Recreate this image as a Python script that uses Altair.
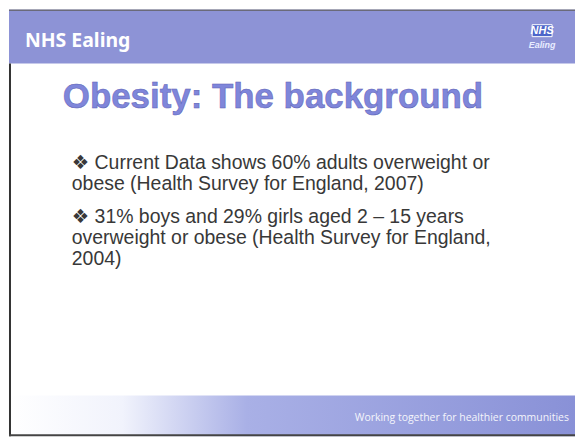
import altair as alt

# ---- slide content ----
header_text = "NHS Ealing"
logo_top = "NHS"
logo_bottom = "Ealing"
slide_title = "Obesity: The background"
bullet_1 = ["❖ Current Data shows 60% adults overweight or",
            "obese (Health Survey for England, 2007)"]
bullet_2 = ["❖ 31% boys and 29% girls aged 2 – 15 years",
            "overweight or obese (Health Survey for England,",
            "2004)"]
footer_text = "Working together for healthier communities"

W, H = 568, 428
BAND = "#8d93d6"
BODY_FONT = "Liberation Sans, Arial, DejaVu Sans"

base = alt.Chart(alt.Data(values=[{"k": 1}]))

bg = base.mark_rect(fill="white").encode(
    x=alt.value(0), x2=alt.value(W), y=alt.value(0), y2=alt.value(H))

header = base.mark_rect(fill=BAND).encode(
    x=alt.value(0), x2=alt.value(W), y=alt.value(0), y2=alt.value(54))
top_line = base.mark_rule(color="#6a6a7a", strokeWidth=1.5).encode(
    x=alt.value(0), x2=alt.value(W), y=alt.value(0.5))

header_lbl = base.mark_text(font="Noto Sans", fontWeight="bold", fontSize=19.5,
                            color="white", align="left", baseline="alphabetic").encode(
    x=alt.value(16), y=alt.value(37), text=alt.value(header_text))

logo_box = base.mark_rect(fill="#4d66c9", stroke="white", strokeWidth=1).encode(
    x=alt.value(525), x2=alt.value(545), y=alt.value(15), y2=alt.value(27))
logo_t1 = base.mark_text(font="Liberation Sans", fontWeight="bold", fontStyle="italic",
                         fontSize=11, color="white", align="center", baseline="middle").encode(
    x=alt.value(535), y=alt.value(21.5), text=alt.value(logo_top))
logo_t2 = base.mark_text(font="Liberation Sans", fontStyle="italic", fontWeight="bold",
                         fontSize=9, color="#e8ecff", align="center", baseline="middle").encode(
    x=alt.value(535), y=alt.value(35), text=alt.value(logo_bottom))

title = base.mark_text(font="Liberation Sans", fontWeight="bold", fontSize=35,
                       fill="#7f86da", stroke="#5a60b4", strokeWidth=0.5,
                       align="left", baseline="alphabetic").encode(
    x=alt.value(54), y=alt.value(99), text=alt.value(slide_title))

b1 = base.mark_text(font=BODY_FONT, fontSize=19.5, color="#383838",
                    align="left", baseline="alphabetic", lineHeight=21).encode(
    x=alt.value(63), y=alt.value(160), text=alt.value(bullet_1))
b2 = base.mark_text(font=BODY_FONT, fontSize=19.5, color="#383838",
                    align="left", baseline="alphabetic", lineHeight=21).encode(
    x=alt.value(63), y=alt.value(214), text=alt.value(bullet_2))

grad = alt.LinearGradient(
    gradient="linear", x1=0, x2=1, y1=0, y2=0,
    stops=[alt.GradientStop(offset=0, color="#ffffff"),
           alt.GradientStop(offset=0.2, color="#f1f3fc"),
           alt.GradientStop(offset=0.42, color="#a9b0e6"),
           alt.GradientStop(offset=1, color="#8991d7")])
footer = base.mark_rect(fill=grad).encode(
    x=alt.value(0), x2=alt.value(W), y=alt.value(387), y2=alt.value(H))
footer_lbl = base.mark_text(font="Open Sans", fontSize=10.5, color="white",
                            align="left", baseline="alphabetic", opacity=0.9).encode(
    x=alt.value(347), y=alt.value(413), text=alt.value(footer_text))

left_line = base.mark_rule(color="#333333", strokeWidth=2).encode(
    x=alt.value(1), y=alt.value(54), y2=alt.value(H))
bottom_line = base.mark_rule(color="#444444", strokeWidth=2).encode(
    x=alt.value(0), x2=alt.value(W), y=alt.value(H - 1))

chart = alt.layer(bg, header, top_line, header_lbl, logo_box, logo_t1, logo_t2,
                  title, b1, b2, footer, footer_lbl, left_line, bottom_line).properties(
    width=W, height=H, padding=0
).configure_view(stroke=None)

chart.save("out.html", embed_options={"renderer": "svg", "actions": False})
